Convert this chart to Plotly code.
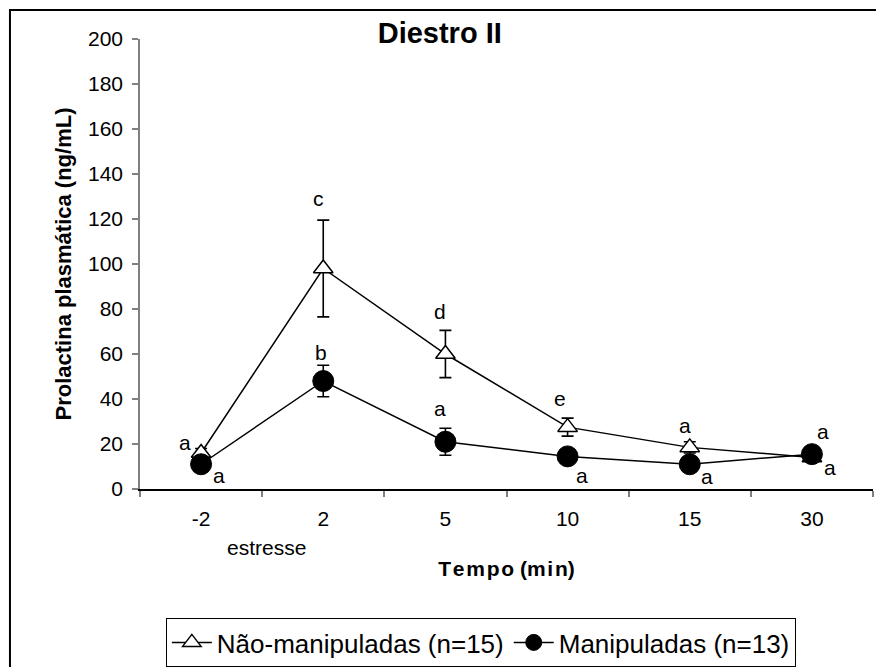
import plotly.graph_objects as go

# ---- data ----
tempo = ["-2", "2", "5", "10", "15", "30"]
nao_manip = [16, 98, 60, 27.5, 18.5, 14]
nao_manip_err = [2, 21.5, 10.5, 4, 2.5, 2]
manip = [11, 48, 21, 14.5, 11, 15.5]
manip_err = [1.5, 7, 6, 2, 1.5, 1.5]

# significance letters: (series, category index, letter, xshift px, yshift px)
letras = [
    ("nao", 0, "a", -16, 11), ("man", 0, "a", 18, -11),
    ("nao", 1, "c", -5, 70), ("man", 1, "b", -2, 29),
    ("nao", 2, "d", -5, 43), ("man", 2, "a", -5, 33),
    ("nao", 3, "e", -8, 29), ("man", 3, "a", 14, -19),
    ("nao", 4, "a", -5, 22), ("man", 4, "a", 17, -12),
    ("man", 5, "a", 11, 23), ("man", 5, "a", 18, -13),
]

FONT = "Arial, Liberation Sans, sans-serif"

fig = go.Figure()
fig.add_trace(go.Scatter(
    x=tempo, y=nao_manip, name="Não-manipuladas (n=15)", mode="lines+markers",
    line=dict(color="black", width=1.5),
    marker=dict(symbol="triangle-up", size=17, color="white",
                line=dict(color="black", width=1.5)),
    error_y=dict(type="data", array=nao_manip_err, visible=True,
                 color="black", thickness=1.6, width=6),
))
fig.add_trace(go.Scatter(
    x=tempo, y=manip, name="Manipuladas (n=13)", mode="lines+markers",
    line=dict(color="black", width=1.5),
    marker=dict(symbol="circle", size=21, color="black",
                line=dict(color="black", width=1)),
    error_y=dict(type="data", array=manip_err, visible=True,
                 color="black", thickness=1.6, width=6),
))

series = {"nao": nao_manip, "man": manip}
for s, i, txt, dx, dy in letras:
    fig.add_annotation(x=i, y=series[s][i], xref="x", yref="y", text=txt,
                       showarrow=False, xshift=dx, yshift=dy,
                       font=dict(family=FONT, size=21, color="black"))

# "estresse" label between -2 and 2
fig.add_annotation(x=0.5, y=-0.129, xref="x", yref="paper", text="estresse",
                   showarrow=False, xshift=4, xanchor="center", yanchor="middle",
                   font=dict(family=FONT, size=21, color="black"))

# outer frame
fig.add_shape(type="rect", xref="paper", yref="paper",
              x0=-0.1774, x1=1.2, y0=-0.6, y1=1.0644,
              line=dict(color="black", width=2), layer="below")

fig.update_layout(
    width=876, height=667,
    margin=dict(l=140, r=3, t=39, b=178, autoexpand=False),
    paper_bgcolor="white", plot_bgcolor="white",
    font=dict(family=FONT, size=21, color="black"),
    title=dict(text="<b>Diestro II</b>", x=0.502, xanchor="center",
               y=1 - 33 / 667, yanchor="middle",
               font=dict(family=FONT, size=29, color="black")),
    showlegend=True,
    legend=dict(orientation="h", x=0.465, xanchor="center",
                y=-0.2867, yanchor="top",
                bordercolor="black", borderwidth=1, bgcolor="white",
                font=dict(family=FONT, size=26, color="black"),
                itemwidth=40),
    xaxis=dict(
        type="category", range=[-0.5, 5.5], tickson="boundaries",
        ticks="outside", ticklen=6, tickcolor="#808080", tickwidth=1.5,
        showline=True, linecolor="black", linewidth=1.5,
        showgrid=False, zeroline=False, ticklabelstandoff=10,
        tickfont=dict(family=FONT, size=21, color="black"),
        title=dict(text="<b>T\u200ae\u200am\u200ap\u200ao (m\u200ai\u200an)</b>", standoff=32,
                   font=dict(family=FONT, size=21, color="black")),
        automargin=False,
    ),
    yaxis=dict(
        range=[0, 200], dtick=20, tick0=0,
        ticks="outside", ticklen=6, tickcolor="#808080", tickwidth=1.5,
        showline=True, linecolor="#808080", linewidth=1.5,
        showgrid=False, zeroline=False, ticklabelstandoff=5,
        tickfont=dict(family=FONT, size=21, color="black"),
        title=dict(text="<b>Prolactina plasmática (ng/mL)</b>", standoff=10,
                   font=dict(family=FONT, size=22, color="black")),
        automargin=False,
    ),
)

fig.write_html("out.html")
